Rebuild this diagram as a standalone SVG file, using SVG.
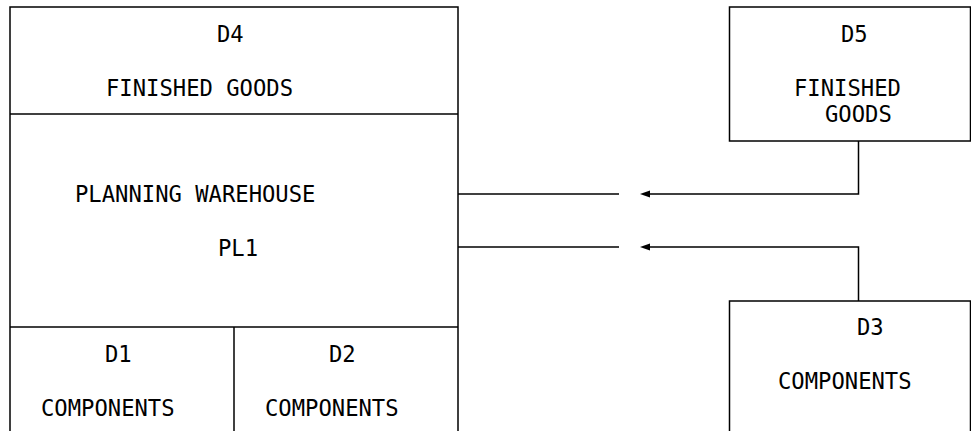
<svg xmlns="http://www.w3.org/2000/svg" width="971" height="431" viewBox="0 0 971 431">
<style>
.b{fill:none;stroke:#000;stroke-width:1.5}
.t{font-family:"DejaVu Sans Mono","Liberation Mono",monospace;font-size:22.2px;fill:#000}
.c{fill:none;stroke:#000;stroke-width:1.5}
.ah{fill:#000}
</style>
<rect width="971" height="431" fill="#fff"/>
<g id="pl1">
<path class="b" d="M10,440 V7 H458 V440"/>
<line class="b" x1="10" y1="114" x2="458" y2="114"/>
<line class="b" x1="10" y1="327" x2="458" y2="327"/>
<text class="t" x="75" y="201.5">PLANNING WAREHOUSE</text>
<text class="t" x="218" y="255.5">PL1</text>
</g>
<g id="d4">
<text class="t" x="217" y="41.5">D4</text>
<text class="t" x="106" y="96">FINISHED GOODS</text>
</g>
<g id="d1">
<line class="b" x1="234" y1="327" x2="234" y2="440"/>
<text class="t" x="105" y="362">D1</text>
<text class="t" x="41" y="416">COMPONENTS</text>
</g>
<g id="d2">
<text class="t" x="329" y="362">D2</text>
<text class="t" x="265" y="416">COMPONENTS</text>
</g>
<g id="d5">
<rect class="b" x="729.5" y="7" width="241" height="134"/>
<text class="t" x="841" y="42">D5</text>
<text class="t" x="794" y="96">FINISHED</text>
<text class="t" x="825" y="121.5">GOODS</text>
</g>
<g id="d3">
<path class="b" d="M729.5,440 V301 H970.5 V440"/>
<text class="t" x="857" y="335">D3</text>
<text class="t" x="778" y="389">COMPONENTS</text>
</g>
<g id="connectors">
<path class="c" d="M858.5,141 V194 H650"/>
<path class="ah" d="M650,190.5 L640,194 L650,197.5 Z"/>
<line class="c" x1="458" y1="194" x2="619" y2="194"/>
<path class="c" d="M858.5,301 V247 H650"/>
<path class="ah" d="M650,243.5 L640,247 L650,250.5 Z"/>
<line class="c" x1="458" y1="247" x2="619" y2="247"/>
</g>
</svg>
